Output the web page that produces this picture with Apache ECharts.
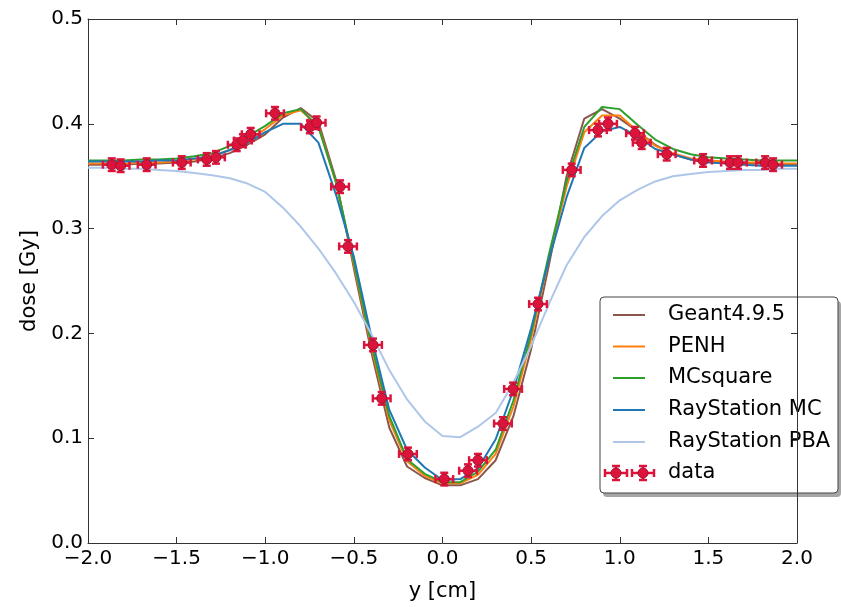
<!DOCTYPE html>
<html>
<head>
<meta charset="utf-8">
<script src="https://cdn.jsdelivr.net/npm/echarts@6/dist/echarts.min.js"></script>
<style>
html,body{margin:0;padding:0;background:#fff;}
#chart{width:841px;height:607px;}
</style>
</head>
<body>
<div id="chart"></div>
<script>
// ---- data ----
var yPos = [-2.0,-1.9,-1.8,-1.7,-1.6,-1.5,-1.4,-1.3,-1.2,-1.1,-1.0,-0.9,-0.8,-0.7,-0.6,-0.5,-0.4,-0.3,-0.2,-0.1,
            0.0,0.1,0.2,0.3,0.4,0.5,0.6,0.7,0.8,0.9,1.0,1.1,1.2,1.3,1.4,1.5,1.6,1.7,1.8,1.9,2.0];

var geant4 = [0.361,0.361,0.361,0.362,0.362,0.363,0.364,0.367,0.372,0.380,0.390,0.406,0.415,0.402,0.346,0.262,0.181,0.110,0.073,0.062,
              0.055,0.055,0.061,0.079,0.121,0.185,0.265,0.350,0.405,0.414,0.405,0.393,0.380,0.371,0.366,0.364,0.363,0.362,0.362,0.361,0.361];
var penh   = [0.362,0.362,0.362,0.363,0.363,0.364,0.366,0.369,0.375,0.384,0.395,0.408,0.413,0.398,0.343,0.266,0.186,0.117,0.078,0.064,
              0.057,0.057,0.065,0.085,0.130,0.195,0.272,0.340,0.392,0.408,0.408,0.393,0.379,0.372,0.367,0.365,0.364,0.363,0.363,0.362,0.362];
var mcsquare = [0.365,0.365,0.365,0.366,0.366,0.367,0.369,0.372,0.379,0.388,0.398,0.410,0.414,0.397,0.344,0.268,0.189,0.121,0.080,0.066,
              0.058,0.058,0.068,0.089,0.136,0.200,0.275,0.345,0.397,0.416,0.414,0.399,0.385,0.376,0.371,0.368,0.367,0.366,0.365,0.365,0.365];
var rsMC   = [0.364,0.364,0.364,0.364,0.365,0.365,0.367,0.369,0.375,0.382,0.392,0.400,0.400,0.382,0.332,0.273,0.196,0.127,0.089,0.072,
              0.060,0.061,0.071,0.099,0.146,0.205,0.270,0.330,0.377,0.393,0.397,0.388,0.376,0.371,0.366,0.363,0.362,0.361,0.360,0.360,0.360];
var rsPBA  = [0.358,0.358,0.357,0.357,0.356,0.355,0.353,0.351,0.348,0.343,0.335,0.320,0.302,0.281,0.257,0.230,0.199,0.165,0.137,0.116,
              0.102,0.101,0.111,0.124,0.153,0.188,0.228,0.265,0.292,0.312,0.327,0.337,0.345,0.350,0.352,0.354,0.355,0.356,0.356,0.357,0.357];

var dataY = [-1.866,-1.816,-1.669,-1.471,-1.330,-1.278,-1.161,-1.126,-1.082,-0.945,-0.748,-0.710,-0.578,-0.533,-0.392,-0.343,-0.195,
             0.010,0.144,0.200,0.341,0.398,0.539,0.729,0.877,0.934,1.086,1.124,1.265,1.470,1.622,1.667,1.820,1.865];
var dataDose = [0.361,0.360,0.361,0.363,0.366,0.368,0.380,0.384,0.390,0.410,0.397,0.401,0.340,0.283,0.189,0.138,0.085,
             0.061,0.069,0.079,0.114,0.147,0.228,0.356,0.394,0.400,0.391,0.382,0.371,0.365,0.363,0.363,0.363,0.361];
var xErr = 0.05;
var yErr = 0.006;

var xTicks = [-2.0,-1.5,-1.0,-0.5,0.0,0.5,1.0,1.5,2.0];
var yTicks = [0.0,0.1,0.2,0.3,0.4,0.5];

var names = ['Geant4.9.5','PENH','MCsquare','RayStation MC','RayStation PBA','data'];
var colors = ['#8c564b','#ff7f0e','#2ca02c','#1f77b4','#aec7e8','#dc143c'];

function pairs(xs, ys){ return xs.map(function(x,i){ return [x, ys[i]]; }); }

var FONT = 'DejaVu Sans';
var errColor = '#dc143c';

function lineSeries(name, vals, color){
  return {
    name: name, type: 'line', data: pairs(yPos, vals),
    showSymbol: false, symbol: 'none',
    lineStyle: {color: color, width: 2},
    itemStyle: {color: color},
    animation: false, z: 2
  };
}

var chart = echarts.init(document.getElementById('chart'), null, {renderer: 'canvas'});

// legend drawn as graphic (real text)
var LX = 600, LY = 297, LW = 238, LH = 196;
var legendChildren = [
  {type:'rect', shape:{x:LX+3, y:LY+4, width:LW, height:LH, r:4}, style:{fill:'rgba(0,0,0,0.35)'}},
  {type:'rect', shape:{x:LX, y:LY, width:LW, height:LH, r:4}, style:{fill:'#fff', stroke:'#444', lineWidth:1}}
];
var rowY = [315, 346.5, 378, 410, 442, 473];
for (var i = 0; i < 5; i++) {
  legendChildren.push({type:'line', shape:{x1:613, y1:rowY[i], x2:645, y2:rowY[i]}, style:{stroke:colors[i], lineWidth:2}});
}
function markerShape(cx, cy, hx, hy){
  var c = errColor;
  return [
    {type:'line', shape:{x1:cx-hx, y1:cy, x2:cx+hx, y2:cy}, style:{stroke:c, lineWidth:2.5}},
    {type:'line', shape:{x1:cx, y1:cy-hy, x2:cx, y2:cy+hy}, style:{stroke:c, lineWidth:2.5}},
    {type:'line', shape:{x1:cx-hx, y1:cy-4, x2:cx-hx, y2:cy+4}, style:{stroke:c, lineWidth:2.5}},
    {type:'line', shape:{x1:cx+hx, y1:cy-4, x2:cx+hx, y2:cy+4}, style:{stroke:c, lineWidth:2.5}},
    {type:'line', shape:{x1:cx-4, y1:cy-hy, x2:cx+4, y2:cy-hy}, style:{stroke:c, lineWidth:2.5}},
    {type:'line', shape:{x1:cx-4, y1:cy+hy, x2:cx+4, y2:cy+hy}, style:{stroke:c, lineWidth:2.5}},
    {type:'circle', shape:{cx:cx, cy:cy, r:5}, style:{fill:c, stroke:'#a8102e', lineWidth:1}}
  ];
}
legendChildren = legendChildren.concat(markerShape(616, 473, 11, 7), markerShape(643, 473, 11, 7));
for (var j = 0; j < 6; j++) {
  legendChildren.push({type:'text', x:668, y:rowY[j], style:{text:names[j], fill:'#000', font:'21px "DejaVu Sans"', textVerticalAlign:'middle', verticalAlign:'middle'}});
}

var option = {
  backgroundColor: '#fff',
  animation: false,
  grid: {left: 88, right: 44, top: 19, bottom: 55, containLabel: false},
  xAxis: [{
    type: 'value', min: -2, max: 2, interval: 0.5,
    name: 'y [cm]', nameLocation: 'middle', nameGap: 38,
    nameTextStyle: {fontFamily: FONT, fontSize: 21, color: '#000'},
    axisLine: {show: true, onZero: false, lineStyle: {color: '#333', width: 1}},
    axisTick: {show: true, inside: true, length: 6, lineStyle: {color: '#333'}},
    axisLabel: {fontFamily: FONT, fontSize: 20, color: '#000', margin: 6,
      formatter: function(v){ return (v < 0 ? '\u2212' : '') + Math.abs(v).toFixed(1); }},
    splitLine: {show: false}
  },{
    type: 'value', min: -2, max: 2, interval: 0.5, position: 'top',
    axisLine: {show: true, onZero: false, lineStyle: {color: '#333', width: 1}},
    axisTick: {show: true, inside: true, length: 6, lineStyle: {color: '#333'}},
    axisLabel: {show: false}, splitLine: {show: false}
  }],
  yAxis: [{
    type: 'value', min: 0, max: 0.5, interval: 0.1,
    name: 'dose [Gy]', nameLocation: 'middle', nameGap: 48, nameRotate: 90,
    nameTextStyle: {fontFamily: FONT, fontSize: 21, color: '#000'},
    axisLine: {show: true, onZero: false, lineStyle: {color: '#333', width: 1}},
    axisTick: {show: true, inside: true, length: 6, lineStyle: {color: '#333'}},
    axisLabel: {fontFamily: FONT, fontSize: 20, color: '#000', margin: 5,
      formatter: function(v){ return v.toFixed(1); }},
    splitLine: {show: false}
  },{
    type: 'value', min: 0, max: 0.5, interval: 0.1, position: 'right',
    axisLine: {show: true, onZero: false, lineStyle: {color: '#333', width: 1}},
    axisTick: {show: true, inside: true, length: 6, lineStyle: {color: '#333'}},
    axisLabel: {show: false}, splitLine: {show: false}
  }],
  series: [
    lineSeries(names[0], geant4, colors[0]),
    lineSeries(names[1], penh, colors[1]),
    lineSeries(names[2], mcsquare, colors[2]),
    lineSeries(names[3], rsMC, colors[3]),
    lineSeries(names[4], rsPBA, colors[4]),
    {
      name: names[5], type: 'custom', z: 5,
      data: pairs(dataY, dataDose),
      renderItem: function(params, api){
        var x = api.value(0), y = api.value(1);
        var c = api.coord([x, y]);
        var l = api.coord([x - xErr, y]), r = api.coord([x + xErr, y]);
        var t = api.coord([x, y + yErr]), b = api.coord([x, y - yErr]);
        var col = errColor, lw = 2.5, cap = 4;
        return {type: 'group', children: [
          {type:'line', shape:{x1:l[0], y1:c[1], x2:r[0], y2:c[1]}, style:{stroke:col, lineWidth:lw}},
          {type:'line', shape:{x1:c[0], y1:t[1], x2:c[0], y2:b[1]}, style:{stroke:col, lineWidth:lw}},
          {type:'line', shape:{x1:l[0], y1:c[1]-cap, x2:l[0], y2:c[1]+cap}, style:{stroke:col, lineWidth:lw}},
          {type:'line', shape:{x1:r[0], y1:c[1]-cap, x2:r[0], y2:c[1]+cap}, style:{stroke:col, lineWidth:lw}},
          {type:'line', shape:{x1:c[0]-cap, y1:t[1], x2:c[0]+cap, y2:t[1]}, style:{stroke:col, lineWidth:lw}},
          {type:'line', shape:{x1:c[0]-cap, y1:b[1], x2:c[0]+cap, y2:b[1]}, style:{stroke:col, lineWidth:lw}},
          {type:'circle', shape:{cx:c[0], cy:c[1], r:5}, style:{fill:col, stroke:'#a8102e', lineWidth:1}}
        ]};
      },
      animation: false
    }
  ],
  graphic: [{type: 'group', z: 100, children: legendChildren}]
};
chart.setOption(option);
</script>
</body>
</html>
